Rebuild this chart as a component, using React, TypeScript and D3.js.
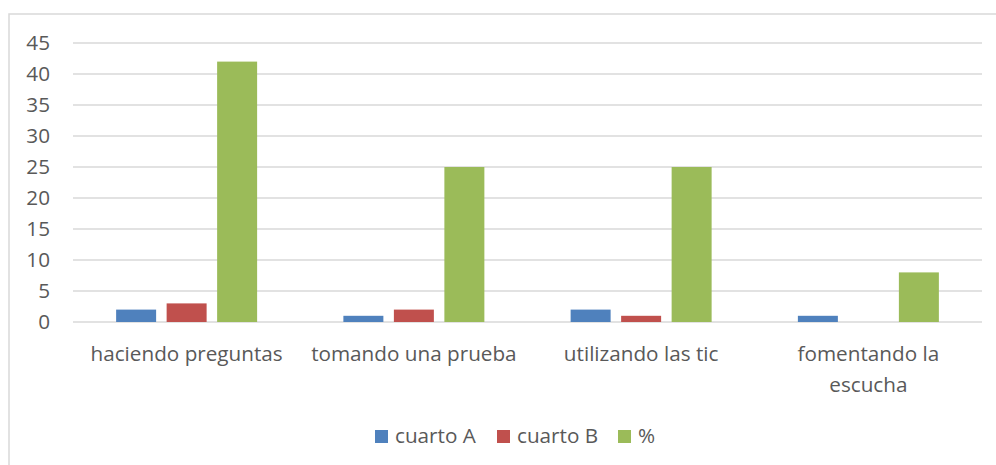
import React from 'react';
import * as d3 from 'd3';

const categories = ['haciendo preguntas', 'tomando una prueba', 'utilizando las tic', 'fomentando la escucha'];
const seriesNames = ['cuarto A', 'cuarto B', '%'];
const cuartoA = [2, 1, 2, 1];
const cuartoB = [3, 2, 1, 0];
const percent = [42, 25, 25, 8];
const yTicks = [0, 5, 10, 15, 20, 25, 30, 35, 40, 45];
const colors = ['#4F81BD', '#C0504D', '#9BBB59'];

const W = 996, H = 465;
const left = 73, right = 982, top = 43, bottom = 322;
const font = '"Open Sans", "Noto Sans", sans-serif';
const fs = 20.7;

// split long labels the way the original wraps them
function wrapLabel(s: string): string[] {
  if (s === 'fomentando la escucha') return ['fomentando la', 'escucha'];
  return [s];
}

export default function App() {
  const series = [cuartoA, cuartoB, percent];

  const x0 = d3.scaleBand<string>().domain(categories).range([left, right]).paddingInner(0).paddingOuter(0);
  const x1 = d3.scaleBand<number>().domain([0, 1, 2]).range([0, x0.bandwidth()]).paddingInner(0.208).paddingOuter(0.854);
  const y = d3.scaleLinear().domain([0, 45]).range([bottom, top]);

  const legendX = [375, 497, 618];

  return (
    <div style={{ position: 'absolute', left: 0, top: 0 }}>
      <svg width={W} height={H} style={{ display: 'block', background: '#fff' }}>
        <rect x={9} y={14} width={W + 10} height={H + 10} fill="#fff" stroke="#d9d9d9" strokeWidth={1.5} />

        {yTicks.map(t => (
          <g key={t}>
            <line x1={left} x2={right} y1={y(t)} y2={y(t)} stroke="#d9d9d9" strokeWidth={1.3} />
            <text x={50} y={y(t)} dy="0.36em" textAnchor="end" fontFamily={font} fontSize={fs} fill="#595959">{t}</text>
          </g>
        ))}

        {categories.map((c, i) => (
          <g key={c}>
            {series.map((s, j) => (
              <rect key={j}
                x={(x0(c) as number) + (x1(j) as number)}
                y={y(s[i])}
                width={x1.bandwidth()}
                height={bottom - y(s[i])}
                fill={colors[j]} />
            ))}
            {wrapLabel(c).map((line, k) => (
              <text key={k}
                x={(x0(c) as number) + x0.bandwidth() / 2}
                y={354 + k * 31}
                dy="0.36em"
                textAnchor="middle" fontFamily={font} fontSize={fs} fill="#595959">{line}</text>
            ))}
          </g>
        ))}

        {seriesNames.map((n, j) => (
          <g key={n}>
            <rect x={legendX[j]} y={430} width={13} height={13} fill={colors[j]} />
            <text x={legendX[j] + 20} y={436} dy="0.36em" fontFamily={font} fontSize={fs} fill="#595959">{n}</text>
          </g>
        ))}
      </svg>
    </div>
  );
}
